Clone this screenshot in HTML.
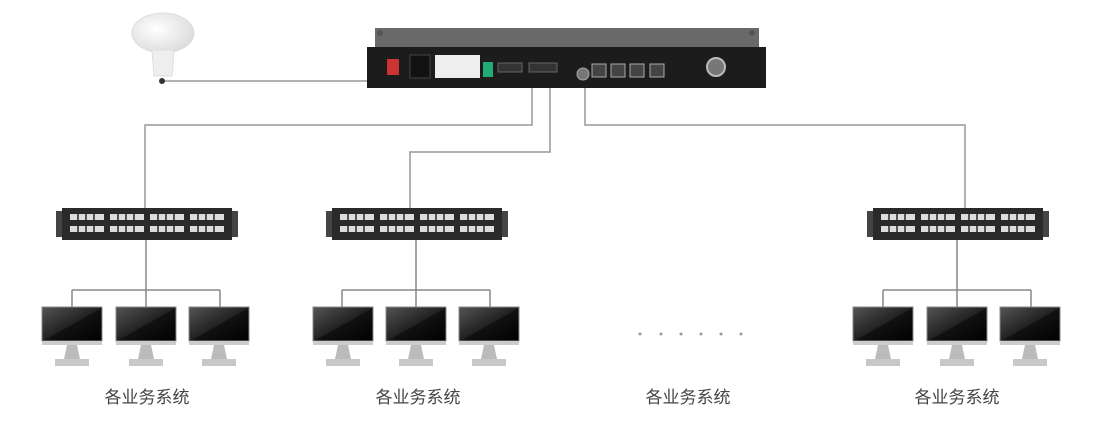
<!DOCTYPE html>
<html><head><meta charset="utf-8"><style>
body{margin:0;background:#fff;width:1095px;height:436px;overflow:hidden}
text{font-family:"Liberation Sans","Noto Sans CJK SC",sans-serif}
</style></head><body>
<svg width="1095" height="436" viewBox="0 0 1095 436" xmlns="http://www.w3.org/2000/svg">
<defs>
<linearGradient id="scr" x1="0" y1="0" x2="1" y2="1">
<stop offset="0" stop-color="#555"/><stop offset="0.5" stop-color="#222"/><stop offset="0.52" stop-color="#111"/><stop offset="1" stop-color="#000"/></linearGradient>
<radialGradient id="dome" cx="0.4" cy="0.4" r="0.7"><stop offset="0" stop-color="#fff"/><stop offset="1" stop-color="#d8d8d8"/></radialGradient>
<g id="panel">
<rect x="0" y="0" width="170" height="32" fill="#2a2a2a"/>
<rect x="-6" y="3" width="6" height="26" fill="#444"/><rect x="170" y="3" width="6" height="26" fill="#444"/>
<g fill="#ddd">
<rect x="8" y="6" width="34" height="6"/><rect x="48" y="6" width="34" height="6"/><rect x="88" y="6" width="34" height="6"/><rect x="128" y="6" width="34" height="6"/>
<rect x="8" y="18" width="34" height="6"/><rect x="48" y="18" width="34" height="6"/><rect x="88" y="18" width="34" height="6"/><rect x="128" y="18" width="34" height="6"/>
</g>
<g stroke="#2a2a2a" stroke-width="1.5">
<path d="M16 6v6M24 6v6M32 6v6M56 6v6M64 6v6M72 6v6M96 6v6M104 6v6M112 6v6M136 6v6M144 6v6M152 6v6"/>
<path d="M16 18v6M24 18v6M32 18v6M56 18v6M64 18v6M72 18v6M96 18v6M104 18v6M112 18v6M136 18v6M144 18v6M152 18v6"/>
</g>
</g>
<g id="mon">
<rect x="0" y="0" width="60" height="34" fill="url(#scr)" stroke="#888" stroke-width="1"/>
<rect x="0" y="34" width="60" height="4" fill="#ccc"/>
<path d="M25 38h10l3 14h-16z" fill="#bbb"/>
<rect x="13" y="52" width="34" height="7" fill="#c8c8c8"/>
</g>
<g id="grp">
<path d="M0 0V82M-74 82H74M-74 82V99M0 82V99M74 82V99" stroke="#888" stroke-width="1.5" fill="none"/>
</g>
</defs>
<!-- antenna -->
<path d="M163 81H367" stroke="#999" stroke-width="1.5"/>
<ellipse cx="163" cy="33" rx="31" ry="20" fill="url(#dome)" stroke="#ddd"/>
<path d="M152 50h22l-2 26h-18z" fill="#eee" stroke="#ddd"/>
<circle cx="162" cy="81" r="3" fill="#333"/>
<!-- device -->
<rect x="375" y="28" width="384" height="20" fill="#6a6a6a"/>
<circle cx="380" cy="33" r="3" fill="#555"/><circle cx="752" cy="33" r="3" fill="#555"/>
<rect x="367" y="47" width="399" height="41" fill="#1c1c1c"/>
<rect x="387" y="59" width="12" height="16" fill="#c33"/>
<rect x="410" y="55" width="20" height="23" fill="#111" stroke="#444"/>
<rect x="435" y="55" width="45" height="23" fill="#eee"/>
<rect x="483" y="62" width="10" height="15" fill="#2a7"/>
<rect x="498" y="63" width="24" height="9" fill="#333" stroke="#666"/>
<rect x="529" y="63" width="28" height="9" fill="#333" stroke="#666"/>
<circle cx="583" cy="74" r="6" fill="#777" stroke="#aaa"/>
<g fill="#444" stroke="#aaa"><rect x="592" y="64" width="14" height="13"/><rect x="611" y="64" width="14" height="13"/><rect x="630" y="64" width="14" height="13"/><rect x="650" y="64" width="14" height="13"/></g>
<circle cx="716" cy="67" r="9" fill="#777" stroke="#bbb" stroke-width="2"/>
<!-- trunk lines -->
<path d="M532 88V125H145V208M550 88V152H410V208M585 88V125H965V208" stroke="#999" stroke-width="1.5" fill="none"/>
<!-- groups -->
<use href="#grp" x="146" y="208"/><use href="#grp" x="416" y="208"/><use href="#grp" x="957" y="208"/>
<use href="#panel" x="62" y="208"/><use href="#panel" x="332" y="208"/><use href="#panel" x="873" y="208"/>
<use href="#mon" x="42" y="307"/><use href="#mon" x="116" y="307"/><use href="#mon" x="189" y="307"/>
<use href="#mon" x="313" y="307"/><use href="#mon" x="386" y="307"/><use href="#mon" x="459" y="307"/>
<use href="#mon" x="853" y="307"/><use href="#mon" x="927" y="307"/><use href="#mon" x="1000" y="307"/>
<g fill="#999"><circle cx="640" cy="334" r="1.5"/><circle cx="661" cy="334" r="1.5"/><circle cx="681" cy="334" r="1.5"/><circle cx="701" cy="334" r="1.5"/><circle cx="721" cy="334" r="1.5"/><circle cx="741" cy="334" r="1.5"/></g>
<g font-size="17" fill="#444" text-anchor="middle">
<text x="147" y="403">各业务系统</text><text x="418" y="403">各业务系统</text><text x="688" y="403">各业务系统</text><text x="957" y="403">各业务系统</text>
</g>
</svg>
</body></html>
